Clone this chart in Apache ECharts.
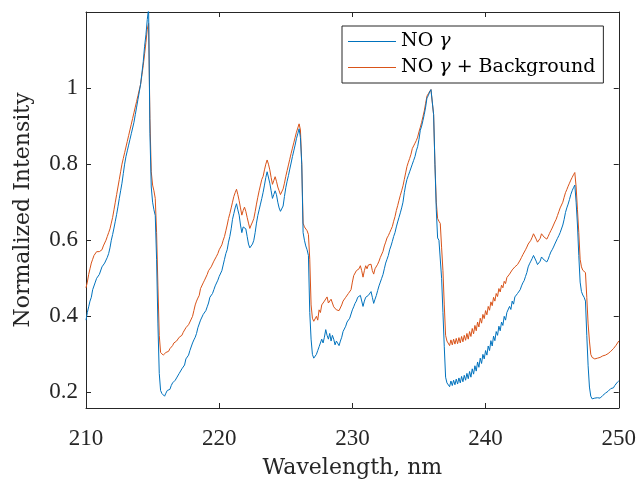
<!DOCTYPE html>
<html><head><meta charset="utf-8">
<script src="https://cdn.jsdelivr.net/npm/echarts@6/dist/echarts.min.js"></script>
<style>html,body{margin:0;padding:0;background:#fff}#c{width:639px;height:484px}</style>
</head><body><div id="c"></div>
<script>
const seriesNames = ['NO γ', 'NO γ + Background'];
const wavelengthStart = 210;
const wavelengthStep = 0.1;
// NO gamma (blue), 210.0 ... 250.0 nm, 0.1 nm steps
const noGamma = [
0.39,0.41,0.425,0.44,0.45,0.47,0.475,0.49,0.50,0.498,
0.51,0.515,0.53,0.527,0.54,0.545,0.555,0.565,0.58,0.60,
0.615,0.632,0.65,0.668,0.688,0.71,0.73,0.75,0.775,0.80,
0.82,0.835,0.85,0.865,0.88,0.895,0.91,0.93,0.95,0.97,
0.99,1.01,1.04,1.07,1.11,1.14,1.18,1.21,0.88,0.74,
0.70,0.68,0.665,0.55,0.38,0.25,0.205,0.197,0.195,0.19,
0.198,0.205,0.21,0.208,0.218,0.225,0.222,0.232,0.238,0.236,
0.25,0.255,0.262,0.26,0.272,0.288,0.285,0.298,0.31,0.308,
0.33,0.338,0.345,0.355,0.37,0.368,0.39,0.395,0.405,0.41,
0.415,0.425,0.435,0.45,0.455,0.46,0.47,0.48,0.485,0.495,
0.505,0.51,0.52,0.535,0.55,0.565,0.575,0.595,0.61,0.63,
0.655,0.67,0.685,0.696,0.68,0.666,0.64,0.62,0.635,0.64,
0.63,0.61,0.59,0.58,0.585,0.59,0.60,0.62,0.645,0.665,
0.68,0.695,0.71,0.726,0.745,0.765,0.78,0.775,0.75,0.73,
0.71,0.72,0.73,0.72,0.70,0.685,0.676,0.674,0.69,0.715,
0.738,0.755,0.77,0.787,0.803,0.82,0.835,0.85,0.867,0.88,
0.893,0.87,0.80,0.62,0.60,0.585,0.575,0.56,0.41,0.34,
0.30,0.29,0.295,0.30,0.31,0.32,0.315,0.34,0.33,0.345,
0.365,0.35,0.34,0.355,0.335,0.35,0.34,0.325,0.335,0.33,
0.323,0.335,0.345,0.36,0.355,0.374,0.385,0.38,0.395,0.40,
0.417,0.425,0.434,0.44,0.45,0.451,0.455,0.46,0.426,0.44,
0.45,0.445,0.455,0.46,0.465,0.45,0.434,0.445,0.455,0.468,
0.48,0.49,0.50,0.51,0.525,0.54,0.55,0.56,0.575,0.585,
0.597,0.61,0.62,0.635,0.648,0.66,0.672,0.685,0.70,0.725,
0.745,0.76,0.77,0.78,0.79,0.80,0.81,0.82,0.835,0.846,
0.865,0.889,0.90,0.915,0.931,0.95,0.974,0.98,0.99,0.996,
1.0,0.93,0.80,0.68,0.606,0.60,0.597,0.50,0.41,0.32,
0.24,0.225,0.22,0.215,0.23,0.218,0.232,0.22,0.235,0.222,
0.238,0.225,0.242,0.228,0.245,0.232,0.25,0.236,0.255,0.24,
0.262,0.248,0.27,0.256,0.28,0.266,0.29,0.276,0.30,0.288,
0.31,0.298,0.322,0.31,0.336,0.322,0.348,0.336,0.36,0.35,
0.374,0.362,0.385,0.376,0.40,0.39,0.41,0.405,0.426,0.418,
0.44,0.432,0.451,0.448,0.46,0.465,0.47,0.48,0.488,0.494,
0.505,0.515,0.53,0.538,0.545,0.552,0.56,0.555,0.545,0.536,
0.534,0.545,0.556,0.552,0.548,0.543,0.543,0.55,0.56,0.569,
0.575,0.582,0.59,0.595,0.605,0.612,0.62,0.625,0.64,0.655,
0.673,0.685,0.695,0.707,0.72,0.73,0.738,0.745,0.70,0.64,
0.56,0.49,0.465,0.456,0.45,0.44,0.35,0.27,0.214,0.19,
0.183,0.182,0.185,0.182,0.186,0.188,0.185,0.19,0.192,0.195,
0.198,0.20,0.203,0.205,0.21,0.214,0.212,0.218,0.222,0.227,
0.23
];
// NO gamma + Background (orange)
const noGammaBackground = [
0.475,0.49,0.51,0.525,0.54,0.55,0.56,0.565,0.57,0.568,
0.57,0.572,0.575,0.585,0.59,0.60,0.61,0.62,0.63,0.645,
0.66,0.68,0.70,0.72,0.74,0.76,0.78,0.80,0.815,0.83,
0.845,0.86,0.875,0.89,0.905,0.92,0.935,0.95,0.965,0.98,
0.995,1.01,1.035,1.06,1.09,1.12,1.155,1.17,0.92,0.78,
0.745,0.73,0.71,0.62,0.48,0.35,0.305,0.30,0.298,0.30,
0.305,0.31,0.308,0.315,0.32,0.323,0.33,0.328,0.335,0.34,
0.345,0.343,0.35,0.358,0.362,0.37,0.368,0.378,0.385,0.39,
0.40,0.415,0.43,0.44,0.448,0.455,0.473,0.478,0.488,0.495,
0.50,0.51,0.52,0.525,0.53,0.535,0.545,0.55,0.558,0.565,
0.575,0.58,0.588,0.60,0.61,0.625,0.64,0.657,0.67,0.685,
0.70,0.715,0.725,0.734,0.72,0.704,0.685,0.666,0.678,0.687,
0.676,0.66,0.645,0.631,0.64,0.648,0.657,0.675,0.695,0.713,
0.73,0.745,0.76,0.768,0.785,0.80,0.811,0.80,0.785,0.765,
0.747,0.757,0.767,0.755,0.74,0.73,0.72,0.717,0.735,0.75,
0.768,0.783,0.798,0.813,0.828,0.842,0.856,0.87,0.884,0.895,
0.906,0.89,0.80,0.645,0.635,0.631,0.625,0.615,0.55,0.43,
0.395,0.387,0.39,0.40,0.39,0.417,0.41,0.43,0.425,0.44,
0.445,0.451,0.435,0.43,0.445,0.44,0.425,0.43,0.417,0.42,
0.415,0.413,0.43,0.44,0.435,0.45,0.455,0.46,0.455,0.47,
0.49,0.507,0.51,0.52,0.515,0.525,0.533,0.52,0.503,0.52,
0.533,0.525,0.535,0.53,0.537,0.52,0.511,0.525,0.53,0.537,
0.545,0.555,0.56,0.571,0.585,0.595,0.606,0.612,0.62,0.628,
0.636,0.65,0.662,0.678,0.691,0.705,0.718,0.73,0.743,0.76,
0.777,0.794,0.805,0.815,0.826,0.841,0.848,0.855,0.862,0.871,
0.885,0.897,0.91,0.925,0.94,0.96,0.979,0.985,0.99,0.996,
1.0,0.93,0.80,0.70,0.657,0.65,0.644,0.58,0.52,0.43,
0.35,0.335,0.33,0.323,0.338,0.325,0.34,0.327,0.342,0.328,
0.344,0.33,0.347,0.333,0.35,0.337,0.355,0.34,0.36,0.347,
0.368,0.354,0.376,0.362,0.385,0.372,0.395,0.382,0.405,0.394,
0.415,0.404,0.426,0.416,0.438,0.428,0.45,0.44,0.46,0.452,
0.473,0.464,0.482,0.475,0.492,0.486,0.502,0.497,0.511,0.507,
0.522,0.518,0.53,0.528,0.536,0.54,0.548,0.555,0.562,0.567,
0.575,0.582,0.59,0.595,0.60,0.608,0.617,0.612,0.603,0.595,
0.593,0.605,0.617,0.613,0.608,0.603,0.603,0.61,0.618,0.625,
0.632,0.64,0.648,0.655,0.665,0.675,0.685,0.69,0.70,0.713,
0.725,0.733,0.742,0.75,0.758,0.765,0.772,0.778,0.74,0.68,
0.62,0.55,0.53,0.521,0.518,0.515,0.45,0.38,0.335,0.30,
0.292,0.29,0.288,0.287,0.29,0.288,0.292,0.295,0.296,0.297,
0.298,0.30,0.302,0.305,0.308,0.313,0.315,0.32,0.324,0.328,
0.335
];
const xTicks = [210, 220, 230, 240, 250];
const yTicks = [0.2, 0.4, 0.6, 0.8, 1];
const xRange = [210, 250];
const yRange = [0.159, 1.2];
const seriesColors = ['#0072BD', '#D95319'];

function toPairs(vals) {
  return vals.map((v, i) => [+(wavelengthStart + i * wavelengthStep).toFixed(2), v]);
}

const axisColor = '#262626';
const tickFont = 'Liberation Serif';
const titleFont = 'DejaVu Serif';

const chart = echarts.init(document.getElementById('c'), null, {renderer: 'canvas'});
const baseX = {
  type: 'value', min: xRange[0], max: xRange[1], interval: 10,
  axisLine: {show: true, onZero: false, lineStyle: {color: axisColor, width: 1}},
  axisTick: {show: true, inside: true, length: 5, lineStyle: {color: axisColor}},
  splitLine: {show: false}
};
const baseY = {
  type: 'value', min: yRange[0], max: yRange[1],
  axisLine: {show: true, onZero: false, lineStyle: {color: axisColor, width: 1}},
  axisTick: {show: true, inside: true, length: 5, customValues: yTicks, lineStyle: {color: axisColor}},
  splitLine: {show: false}
};
chart.setOption({
  animation: false,
  backgroundColor: '#fff',
  grid: {left: 86, right: 20, top: 12, bottom: 67, containLabel: false},
  xAxis: [
    Object.assign({}, baseX, {
      position: 'bottom',
      axisLabel: {show: true, customValues: xTicks, fontFamily: tickFont, fontSize: 23, color: axisColor, margin: 19},
      name: 'Wavelength, nm', nameLocation: 'middle', nameGap: 49,
      nameTextStyle: {fontFamily: titleFont, fontSize: 22, color: axisColor}
    }),
    Object.assign({}, baseX, {position: 'top', axisLabel: {show: false}})
  ],
  yAxis: [
    Object.assign({}, baseY, {
      position: 'left',
      axisLabel: {show: true, customValues: yTicks, fontFamily: tickFont, fontSize: 23, color: axisColor, margin: 8,
        formatter: v => String(+v.toFixed(2))},
      name: 'Normalized Intensity', nameLocation: 'middle', nameGap: 52,
      nameTextStyle: {fontFamily: titleFont, fontSize: 22, color: axisColor}
    }),
    Object.assign({}, baseY, {position: 'right', axisLabel: {show: false}})
  ],
  legend: {
    show: true, orient: 'vertical', left: 342, top: 26,
    padding: [6, 8, 6, 6], itemGap: 7, itemWidth: 48, itemHeight: 1,
    backgroundColor: '#fff', borderColor: axisColor, borderWidth: 1, borderRadius: 0,
    data: seriesNames.map(n => ({name: n, icon: 'rect'})),
    formatter: name => name.replace('γ', '{g|γ}'),
    textStyle: {fontFamily: titleFont, fontSize: 19, color: '#000', padding: [0,0,0,0],
      rich: {g: {fontFamily: titleFont, fontSize: 19, fontStyle: 'italic', color: '#000'}}}
  },
  series: [
    {name: seriesNames[0], type: 'line', data: toPairs(noGamma), showSymbol: false, symbol: 'none',
     lineStyle: {color: seriesColors[0], width: 1}, itemStyle: {color: seriesColors[0]}, clip: true, z: 3},
    {name: seriesNames[1], type: 'line', data: toPairs(noGammaBackground), showSymbol: false, symbol: 'none',
     lineStyle: {color: seriesColors[1], width: 1}, itemStyle: {color: seriesColors[1]}, clip: true, z: 2}
  ]
});
</script>
</body></html>
